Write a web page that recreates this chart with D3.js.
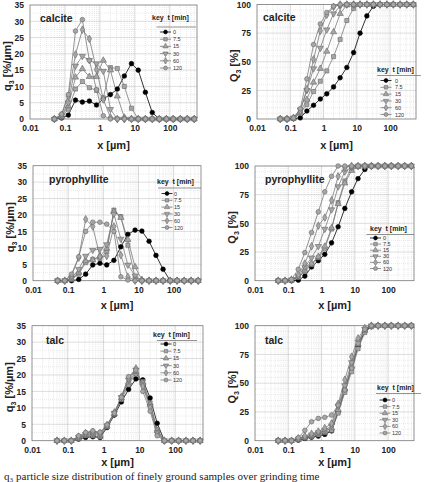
<!DOCTYPE html>
<html>
<head>
<meta charset="utf-8">
<script src="https://cdn.jsdelivr.net/npm/d3@7"></script>
<style>
body { margin: 0; background: #fff; overflow: hidden; }
svg { font-family: "Liberation Sans", Arial, sans-serif; font-weight: bold; }
</style>
</head>
<body>
<svg id="fig" width="424" height="482"></svg>
<script>
// Particle size classes [µm]
const sizes = [0.05, 0.08, 0.125, 0.2, 0.315, 0.5, 0.8, 1.25, 2, 3.15, 5, 8, 12.5, 20, 31.5, 50, 80, 125, 200, 315, 500];
// Grinding times (legend)
const times = ["0", "7.5", "15", "30", "60", "120"];
const xTicks = [0.01, 0.1, 1, 10, 100];
const qTicks = [0, 5, 10, 15, 20, 25, 30, 35];
const cumTicks = [0, 25, 50, 75, 100];

// density q3 [%/µm], one row per grinding time
const calciteQ = [
	[0, 0.3, 1.2, 5.8, 5.2, 5.5, 4.3, 6.2, 7.5, 9.2, 13.2, 17, 15, 8.2, 2, 0, 0, 0, 0, 0, 0],
	[0, 0.5, 3, 9.2, 11.5, 9.6, 8.8, 6.5, 15.8, 15.5, 10, 3.3, 0, 0, 0, 0, 0, 0, 0, 0, 0],
	[0, 0.8, 4, 12.8, 15.4, 13, 13, 18, 15, 7, 0.5, 0, 0, 0, 0, 0, 0, 0, 0, 0, 0],
	[0, 1, 5, 16.3, 19.3, 18, 17, 14.7, 3, 0, 0, 0, 0, 0, 0, 0, 0, 0, 0, 0, 0],
	[0, 1.2, 7, 19.8, 27.4, 24.6, 15.2, 6, 0.5, 0, 0, 0, 0, 0, 0, 0, 0, 0, 0, 0, 0],
	[0, 1.5, 7.5, 27, 30.5, 18, 9, 1, 0, 0, 0, 0, 0, 0, 0, 0, 0, 0, 0, 0, 0]
];
// cumulative Q3 [%]
const calciteCum = [
	[0, 0, 0.3, 1, 7, 12, 17.5, 22, 28, 36, 45, 58, 75, 90, 98.5, 100, 100, 100, 100, 100, 100],
	[0, 0, 0.5, 5, 12.5, 24, 33, 42, 54.5, 69.5, 86, 96.5, 100, 100, 100, 100, 100, 100, 100, 100, 100],
	[0, 0, 0.8, 6, 17, 32, 44, 59, 76, 92, 99.5, 100, 100, 100, 100, 100, 100, 100, 100, 100, 100],
	[0, 0, 1, 8, 25, 44, 62, 78, 92, 98.5, 100, 100, 100, 100, 100, 100, 100, 100, 100, 100, 100],
	[0, 0, 1, 7, 26, 52, 77, 91, 98, 100, 100, 100, 100, 100, 100, 100, 100, 100, 100, 100, 100],
	[0, 0, 1, 9, 35, 65, 83, 93, 98.5, 100, 100, 100, 100, 100, 100, 100, 100, 100, 100, 100, 100]
];
const pyroQ = [
	[0, 0, 0, 0.4, 2, 4.8, 5.3, 4.8, 6.2, 10.3, 14.1, 15.4, 15.1, 12, 7.7, 3.5, 0, 0, 0, 0, 0],
	[0, 0, 0.4, 2, 5.5, 6.5, 6.8, 8.8, 21.5, 19.5, 10.8, 1, 0, 0, 0, 0, 0, 0, 0, 0, 0],
	[0, 0, 0.5, 2.5, 6, 6.3, 7.5, 9.8, 21, 19.2, 12.5, 4.2, 0.3, 0, 0, 0, 0, 0, 0, 0, 0],
	[0, 0, 0.8, 3.5, 7.5, 9.3, 9.6, 11, 20.3, 12.7, 4.8, 1.5, 0, 0, 0, 0, 0, 0, 0, 0, 0],
	[0, 0, 1.5, 7, 18.7, 16.5, 7.3, 7.5, 16.5, 7.8, 1.2, 0, 0, 0, 0, 0, 0, 0, 0, 0, 0],
	[0, 0, 2, 7.3, 15, 17.8, 17.8, 17.2, 15, 1.2, 0.2, 0, 0, 0, 0, 0, 0, 0, 0, 0, 0]
];
const pyroCum = [
	[0, 0, 0, 0.5, 4, 12, 17.5, 23, 33, 47, 63, 77.5, 89, 97, 100, 100, 100, 100, 100, 100, 100],
	[0, 0, 0.5, 3, 8, 14, 20, 28, 45, 68, 87, 98, 100, 100, 100, 100, 100, 100, 100, 100, 100],
	[0, 0, 0.5, 3, 9, 15, 21, 30, 46, 67, 85, 96, 99.5, 100, 100, 100, 100, 100, 100, 100, 100],
	[0, 0, 0.8, 4, 12, 20, 30, 45, 62, 82, 95, 99, 100, 100, 100, 100, 100, 100, 100, 100, 100],
	[0, 0, 1, 5, 15, 30, 48, 55, 70, 91, 98.5, 100, 100, 100, 100, 100, 100, 100, 100, 100, 100],
	[0, 0, 1, 10, 24.5, 42, 60, 77.5, 91, 100, 100, 100, 100, 100, 100, 100, 100, 100, 100, 100, 100]
];
const talcQ = [
	[0, 0, 0, 0.5, 1, 1.2, 1, 4, 7.8, 11.8, 15.6, 18.8, 18.5, 13, 5.3, 0, 0, 0, 0, 0, 0],
	[0, 0, 0, 0.6, 1.5, 1.5, 1.2, 4.2, 8, 12.5, 17, 20.5, 18, 11.5, 3.5, 0, 0, 0, 0, 0, 0],
	[0, 0, 0, 0.8, 1.8, 2, 1.6, 4.4, 8.2, 13, 17.8, 21, 17.5, 11, 3, 0, 0, 0, 0, 0, 0],
	[0, 0, 0, 1, 2, 2.3, 2, 4.6, 8.4, 13.2, 18.5, 21.5, 17, 10.5, 2.5, 0, 0, 0, 0, 0, 0],
	[0, 0, 0, 1.2, 2.3, 2.7, 2.3, 4.8, 8.6, 13.4, 19, 22, 16.5, 10, 2, 0, 0, 0, 0, 0, 0],
	[0, 0, 0, 1.5, 2.5, 3, 2.6, 4.8, 8.4, 13.2, 19.5, 21.5, 15, 9, 1.5, 0, 0, 0, 0, 0, 0]
];
const talcCum = [
	[0, 0, 0, 0.5, 2, 3, 4, 5.5, 8.5, 25, 44, 63, 82, 95, 99.5, 100, 100, 100, 100, 100, 100],
	[0, 0, 0, 1, 2.5, 3.5, 5, 7, 9, 24, 42, 60, 80, 94, 99, 100, 100, 100, 100, 100, 100],
	[0, 0, 0, 1, 3, 4.5, 6, 8, 11, 27, 45, 65, 84, 96, 100, 100, 100, 100, 100, 100, 100],
	[0, 0, 0, 1.5, 3, 5, 7, 9, 13, 30, 48, 68, 86, 97, 100, 100, 100, 100, 100, 100, 100],
	[0, 0, 0, 2, 4, 6, 8, 11, 15, 32, 53, 73, 89, 98, 100, 100, 100, 100, 100, 100, 100],
	[0, 0, 0, 2.5, 9, 16.5, 19.4, 20.3, 22.3, 31, 44, 63, 84.6, 97, 100, 100, 100, 100, 100, 100, 100]
];

const svg = d3.select('#fig');
const symbols = [d3.symbolCircle, d3.symbolSquare, d3.symbolTriangle, d3.symbolTriangle, d3.symbolDiamond, d3.symbolCircle];

// layout of the six panels
const panels = [
	{ name: 'calcite', data: calciteQ, cum: false, x0: 30, x1: 197, y0: 5, y1: 119, lx: 40, ly: 22,
		leg: { hx: 152, hy: 20, uy: 27, ey: 32, step: 7.2, mx: 165.5, tx: 173 }, xt: 145 },
	{ name: 'calcite', data: calciteCum, cum: true, x0: 257, x1: 416, y0: 4.5, y1: 119, lx: 263, ly: 21,
		leg: { hx: 377, hy: 72, uy: 75.5, ey: 80.5, step: 6.8, mx: 386, tx: 395 }, xt: 145 },
	{ name: 'pyrophyllite', data: pyroQ, cum: false, x0: 33, x1: 201, y0: 165.7, y1: 280.7, lx: 49, ly: 183,
		leg: { hx: 157, hy: 184, uy: 188, ey: 193.5, step: 6.8, mx: 167, tx: 174 }, xt: 305 },
	{ name: 'pyrophyllite', data: pyroCum, cum: true, x0: 255, x1: 414, y0: 166, y1: 280.7, lx: 265, ly: 183,
		leg: { hx: 370, hy: 231, uy: 234.5, ey: 238, step: 6.1, mx: 375.5, tx: 383 }, xt: 305 },
	{ name: 'talc', data: talcQ, cum: false, x0: 32, x1: 203, y0: 325.7, y1: 440.7, lx: 46, ly: 344,
		leg: { hx: 153, hy: 337, uy: 340.5, ey: 344, step: 7.2, mx: 166, tx: 173 }, xt: 462 },
	{ name: 'talc', data: talcCum, cum: true, x0: 255, x1: 414, y0: 325.7, y1: 440.7, lx: 265, ly: 344,
		leg: { hx: 377, hy: 390, uy: 393.5, ey: 400, step: 6.6, mx: 385, tx: 392 }, xt: 462 }
];

const seriesStroke = (i) => i === 0 ? '#000' : '#7a7a7a';
const markerFill = (i) => i === 0 ? '#000' : '#a6a6a6';
const markerStroke = (i) => i === 0 ? '#000' : '#666';

const drawMarker = (g, i, px, py, size) => {
	g.append('path')
		.attr('d', d3.symbol().type(symbols[i]).size(size)())
		.attr('transform', `translate(${px},${py})` + (i === 3 ? ' rotate(180)' : ''))
		.attr('fill', markerFill(i))
		.attr('stroke', markerStroke(i))
		.attr('stroke-width', 0.6);
};

const drawPanel = (p) => {
	let x = d3.scaleLog().domain([0.01, 600]).range([p.x0, p.x1]);
	let y = d3.scaleLinear().domain([0, p.cum ? 100 : 35]).range([p.y1, p.y0]);
	let g = svg.append('g');

	g.append('rect').attr('x', p.x0).attr('y', p.y0)
		.attr('width', p.x1 - p.x0).attr('height', p.y1 - p.y0).attr('fill', '#fff');

	// grid: minor and major in x
	let minors = [];
	for (let d of [0.01, 0.1, 1, 10, 100]) {
		for (let m = 2; m <= 9; m++) if (d * m < 600) minors.push(d * m);
	}
	g.selectAll('.xminor').data(minors).enter().append('line')
		.attr('x1', d => x(d)).attr('x2', d => x(d))
		.attr('y1', p.y0).attr('y2', p.y1)
		.attr('stroke', '#cfcfcf').attr('stroke-width', 0.5).attr('stroke-dasharray', '1,1');
	g.selectAll('.xmajor').data(xTicks.slice(1)).enter().append('line')
		.attr('x1', d => x(d)).attr('x2', d => x(d))
		.attr('y1', p.y0).attr('y2', p.y1)
		.attr('stroke', '#bdbdbd').attr('stroke-width', 0.6);

	// grid in y
	let yTicks = p.cum ? cumTicks : qTicks;
	let yStep = p.cum ? 5 : 2.5;
	let yMinor = d3.range(yStep, y.domain()[1], yStep);
	g.selectAll('.yminor').data(yMinor).enter().append('line')
		.attr('x1', p.x0).attr('x2', p.x1)
		.attr('y1', d => y(d)).attr('y2', d => y(d))
		.attr('stroke', d => yTicks.includes(d) ? '#bdbdbd' : '#d6d6d6')
		.attr('stroke-width', 0.5)
		.attr('stroke-dasharray', d => yTicks.includes(d) ? null : '1,1');

	g.append('rect').attr('x', p.x0).attr('y', p.y0)
		.attr('width', p.x1 - p.x0).attr('height', p.y1 - p.y0)
		.attr('fill', 'none').attr('stroke', '#777').attr('stroke-width', 0.8);

	// axes
	let ax = g.append('g').attr('transform', `translate(0,${p.y1})`)
		.call(d3.axisBottom(x).tickValues(xTicks).tickSize(0).tickPadding(6)
			.tickFormat(d => d3.format('~g')(d)));
	let ay = g.append('g').attr('transform', `translate(${p.x0},0)`)
		.call(d3.axisLeft(y).tickValues(yTicks).tickSize(0).tickPadding(6));
	for (let a of [ax, ay]) {
		a.select('.domain').remove();
		a.selectAll('text').attr('font-size', 8.5).attr('font-weight', 'bold')
			.attr('font-family', '"Liberation Sans", Arial, sans-serif').attr('fill', '#222');
	}

	// series
	let line = d3.line().x((d, j) => x(sizes[j])).y(d => y(d));
	p.data.forEach((vals, i) => {
		g.append('path').datum(vals).attr('d', line)
			.attr('fill', 'none').attr('stroke', seriesStroke(i)).attr('stroke-width', 0.8);
	});
	p.data.forEach((vals, i) => {
		vals.forEach((v, j) => drawMarker(g, i, x(sizes[j]), y(v), 17));
	});

	// panel label
	g.append('text').attr('x', p.lx).attr('y', p.ly).text(p.name)
		.attr('font-size', 10.5).attr('fill', '#222');

	// legend
	let L = p.leg;
	g.append('text').attr('x', L.hx).attr('y', L.hy).attr('font-size', 7).attr('fill', '#222')
		.attr('xml:space', 'preserve').text('key  t [min]');
	g.append('line').attr('x1', L.mx - 9).attr('x2', L.hx + 44)
		.attr('y1', L.uy).attr('y2', L.uy).attr('stroke', '#666').attr('stroke-width', 0.7);
	times.forEach((t, i) => {
		let ey = L.ey + i * L.step;
		g.append('line').attr('x1', L.mx - 5.5).attr('x2', L.mx + 5.5)
			.attr('y1', ey).attr('y2', ey).attr('stroke', seriesStroke(i)).attr('stroke-width', 0.8);
		drawMarker(g, i, L.mx, ey, 12);
		g.append('text').attr('x', L.tx).attr('y', ey + 2).attr('font-size', 5.5)
			.attr('font-weight', 'normal').attr('fill', '#333').text(t);
	});

	// axis titles
	let cx = (p.x0 + p.x1) / 2, cy = (p.y0 + p.y1) / 2;
	g.append('text').attr('x', cx).attr('y', p.xt + 4).attr('text-anchor', 'middle')
		.attr('font-size', 11).attr('fill', '#222').text('x [µm]');
	let yt = g.append('text').attr('text-anchor', 'middle').attr('font-size', 11).attr('fill', '#222')
		.attr('transform', `translate(${p.x0 - 19},${cy + 4}) rotate(-90)`);
	yt.append('tspan').text(p.cum ? 'Q' : 'q');
	yt.append('tspan').attr('font-size', 7).attr('dy', 2.5).text('3');
	yt.append('tspan').attr('dy', -2.5).text(p.cum ? ' [%]' : ' [%/µm]');
};

panels.forEach(drawPanel);

// figure caption line at the bottom edge
svg.append('text').attr('x', 4).attr('y', 479.5).attr('font-size', 11).attr('font-weight', 'normal')
	.attr('font-family', '"Liberation Serif", serif').attr('fill', '#222')
	.text('q₃ particle size distribution of finely ground samples over grinding time');
</script>
</body>
</html>
